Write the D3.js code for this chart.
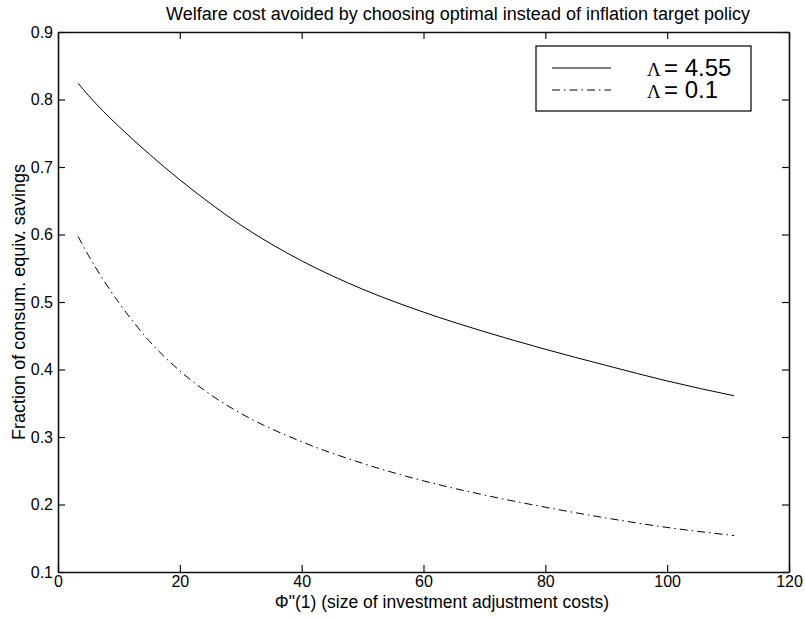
<!DOCTYPE html>
<html>
<head>
<meta charset="utf-8">
<script src="https://cdn.jsdelivr.net/npm/d3@7"></script>
<style>
  body { margin: 0; background: #fff; }
  svg { font-family: Arial, "Liberation Sans", sans-serif; }
  .tick text { font-size: 16px; fill: #000; }
</style>
</head>
<body>
<div id="chart"></div>
<script>
// welfare cost avoided, two values of Lambda

const width = 805,
    height = 618,
    margin = ({ top: 32, right: 16, bottom: 46, left: 58 });

// x values: Phi''(1)
const phi = [3.3, 5, 7.5, 10, 12.5, 15, 20, 25, 30, 40, 50, 60, 70, 80, 90, 100, 111];
// Lambda = 4.55 (solid)
const lam455 = [0.824, 0.806, 0.782, 0.760, 0.739, 0.719, 0.681, 0.646, 0.614, 0.561, 0.519, 0.485, 0.456, 0.430, 0.406, 0.383, 0.361];
// Lambda = 0.1 (dash-dot)
const lam01 = [0.597, 0.569, 0.532, 0.499, 0.469, 0.442, 0.398, 0.363, 0.335, 0.293, 0.261, 0.235, 0.214, 0.196, 0.180, 0.166, 0.154];

const xTicks = [0, 20, 40, 60, 80, 100, 120];
const yTicks = [0.1, 0.2, 0.3, 0.4, 0.5, 0.6, 0.7, 0.8, 0.9];
const legendLabels = ["= 4.55", "= 0.1"];

let svg = d3.select("#chart")
    .append("svg")
    .attr("width", width)
    .attr("height", height);

let x = d3.scaleLinear()
    .domain([0, 120])
    .range([margin.left, width - margin.right]);

let y = d3.scaleLinear()
    .domain([0.1, 0.9])
    .range([height - margin.bottom, margin.top]);

// axes on all four sides, ticks pointing inward (matlab style)
svg.append("g")
    .attr("transform", `translate(0,${height - margin.bottom})`)
    .call(d3.axisBottom(x).tickValues(xTicks).tickSize(-7).tickPadding(4).tickSizeOuter(0));

svg.append("g")
    .attr("transform", `translate(0,${margin.top})`)
    .call(d3.axisTop(x).tickValues(xTicks).tickSize(-7).tickFormat("").tickSizeOuter(0));

svg.append("g")
    .attr("transform", `translate(${margin.left},0)`)
    .call(d3.axisLeft(y).tickValues(yTicks).tickSize(-7).tickPadding(5).tickFormat(d3.format(".1f")).tickSizeOuter(0));

svg.append("g")
    .attr("transform", `translate(${width - margin.right},0)`)
    .call(d3.axisRight(y).tickValues(yTicks).tickSize(-7).tickFormat("").tickSizeOuter(0));

svg.selectAll(".domain").attr("stroke", "#111").attr("stroke-width", 1.6);
svg.selectAll(".tick line").attr("stroke", "#111").attr("stroke-width", 1.2);

// title + labels
svg.append("text")
    .attr("x", 458)
    .attr("y", 20)
    .attr("text-anchor", "middle")
    .attr("font-size", 18)
    .text("Welfare cost avoided by choosing optimal instead of inflation target policy");

svg.append("text")
    .attr("x", 442)
    .attr("y", 608)
    .attr("text-anchor", "middle")
    .attr("font-size", 17.5)
    .text("\u03A6\"(1) (size of investment adjustment costs)");

svg.append("text")
    .attr("transform", "rotate(-90)")
    .attr("x", -(margin.top + height - margin.bottom) / 2)
    .attr("y", 25)
    .attr("text-anchor", "middle")
    .attr("font-size", 18)
    .text("Fraction of consum. equiv. savings");

// lines
let line = d3.line()
    .x(d => x(d[0]))
    .y(d => y(d[1]))
    .curve(d3.curveMonotoneX);

const dashes = [null, "8,4,1.5,4"];

[lam455, lam01].forEach((vals, i) => {
    svg.append("path")
        .datum(d3.zip(phi, vals))
        .attr("d", line)
        .attr("fill", "none")
        .attr("stroke", "#000")
        .attr("stroke-width", 1)
        .attr("stroke-dasharray", dashes[i]);
});

// legend
let lg = svg.append("g");
lg.append("rect")
    .attr("x", 536).attr("y", 46)
    .attr("width", 215).attr("height", 65)
    .attr("fill", "#fff")
    .attr("stroke", "#000")
    .attr("stroke-width", 1.2);

legendLabels.forEach((lab, i) => {
    let ly = 68 + i * 22;
    lg.append("line")
        .attr("x1", 552).attr("x2", 611)
        .attr("y1", ly).attr("y2", ly)
        .attr("stroke", "#000")
        .attr("stroke-dasharray", dashes[i]);
    // Lambda glyph (symbol font in the original)
    lg.append("text")
        .attr("x", 647)
        .attr("y", ly + 8)
        .attr("font-family", "'Liberation Serif', 'Times New Roman', serif")
        .attr("font-size", 19)
        .text("\u039B");
    lg.append("text")
        .attr("x", 664)
        .attr("y", ly + 8)
        .attr("font-size", 24)
        .text(lab);
});
</script>
</body>
</html>
